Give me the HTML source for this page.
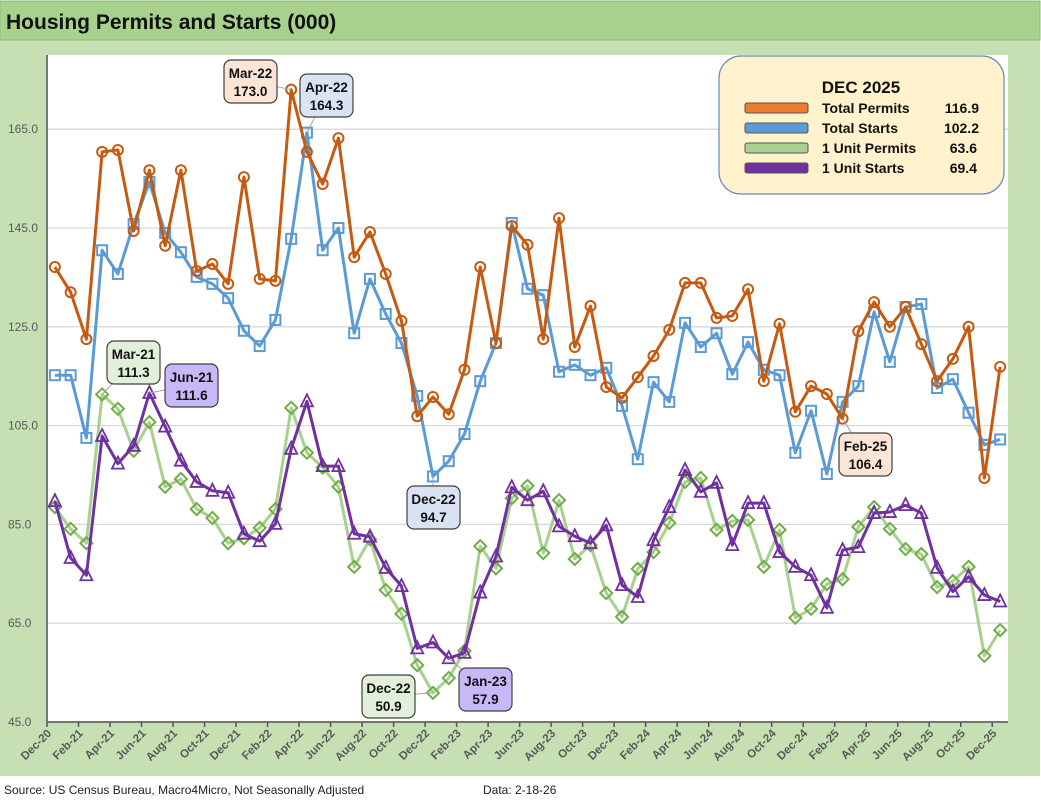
<!DOCTYPE html>
<html><head><meta charset="utf-8"><style>
body{margin:0;width:1041px;height:806px;overflow:hidden;background:#fff;font-family:"Liberation Sans",sans-serif}
svg text{font-family:"Liberation Sans",sans-serif}
</style></head><body>
<svg id="chart" width="1041" height="806" xmlns="http://www.w3.org/2000/svg">
<rect x="0" y="40" width="1040" height="736" fill="#c6e0b4"/>
<rect x="0" y="1" width="1040" height="39" fill="#a9d18e" stroke="#8fb87a"/>
<text x="6" y="29" font-size="21" font-weight="bold" fill="#111">Housing Permits and Starts (000)</text>
<rect x="47" y="55" width="961" height="667" fill="#fff"/>
<g id="grid"></g><g id="series"></g><g id="axes"></g><g id="callouts"></g>
<g>
<rect x="719" y="56" width="285" height="138" rx="22" fill="#fff2cc" stroke="#6a88b8" stroke-width="1.2"/>
<text x="861" y="93" font-size="17" font-weight="bold" text-anchor="middle" fill="#111">DEC 2025</text>
<g font-size="14" font-weight="bold" fill="#111">
<rect x="745" y="103" width="63" height="10" rx="2" fill="#ed7d31" stroke="#555"/>
<text x="822" y="113">Total Permits</text><text x="979" y="113" text-anchor="end">116.9</text>
<rect x="745" y="123" width="63" height="10" rx="2" fill="#5b9bd5" stroke="#555"/>
<text x="822" y="133">Total Starts</text><text x="979" y="133" text-anchor="end">102.2</text>
<rect x="745" y="143" width="63" height="10" rx="2" fill="#a9d18e" stroke="#555"/>
<text x="822" y="153">1 Unit Permits</text><text x="977" y="153" text-anchor="end">63.6</text>
<rect x="745" y="163" width="63" height="10" rx="2" fill="#7030a0" stroke="#555"/>
<text x="822" y="173">1 Unit Starts</text><text x="977" y="173" text-anchor="end">69.4</text>
</g></g>
<text x="4" y="794" font-size="12" fill="#222">Source: US Census Bureau, Macro4Micro, Not Seasonally Adjusted</text>
<text x="483" y="794" font-size="12" fill="#222">Data: 2-18-26</text>
</svg>
<script>
const months=["Dec-20","Jan-21","Feb-21","Mar-21","Apr-21","May-21","Jun-21","Jul-21","Aug-21","Sep-21","Oct-21","Nov-21","Dec-21","Jan-22","Feb-22","Mar-22","Apr-22","May-22","Jun-22","Jul-22","Aug-22","Sep-22","Oct-22","Nov-22","Dec-22","Jan-23","Feb-23","Mar-23","Apr-23","May-23","Jun-23","Jul-23","Aug-23","Sep-23","Oct-23","Nov-23","Dec-23","Jan-24","Feb-24","Mar-24","Apr-24","May-24","Jun-24","Jul-24","Aug-24","Sep-24","Oct-24","Nov-24","Dec-24","Jan-25","Feb-25","Mar-25","Apr-25","May-25","Jun-25","Jul-25","Aug-25","Sep-25","Oct-25","Nov-25","Dec-25"];
const totalPermits=[137.1,132.0,122.5,160.4,160.8,144.4,156.7,141.4,156.7,136.3,137.7,133.7,155.3,134.7,134.3,173.0,160.4,153.9,163.2,139.1,144.2,135.7,126.2,106.9,110.8,107.3,116.3,137.1,121.7,145.4,141.6,122.5,147.0,120.9,129.2,112.8,110.6,114.8,119.1,124.4,133.9,133.9,126.8,127.2,132.6,114.0,125.6,107.8,113.0,111.4,106.4,124.1,130.0,125.0,129.0,121.5,114.0,118.5,125.0,94.4,116.9];
const totalStarts=[115.2,115.2,102.5,140.5,135.7,145.8,154.3,144.0,140.1,135.1,133.7,130.8,124.2,121.1,126.4,142.8,164.3,140.5,145.0,123.7,134.7,127.6,121.7,111.0,94.7,97.8,103.3,114.0,121.7,146.0,132.7,131.4,115.9,117.3,115.2,116.7,109.0,98.2,113.8,109.8,125.8,120.9,123.7,115.4,121.9,116.3,115.2,99.5,108.0,95.2,109.8,113.0,128.0,117.9,129.0,129.6,112.6,114.4,107.6,101.1,102.2];
const unitPermits=[88.5,84.1,81.2,111.3,108.4,99.9,105.7,92.6,94.2,88.1,86.3,81.2,82.2,84.3,88.1,108.6,99.5,96.5,92.6,76.4,82.0,71.7,66.9,56.5,50.9,53.9,59.4,80.6,76.1,90.3,92.8,79.2,89.9,78.0,80.8,71.1,66.3,76.0,79.4,85.3,93.6,94.4,83.9,85.7,85.9,76.4,83.9,66.1,67.9,72.9,73.9,84.5,88.5,84.1,80.0,79.0,72.3,73.5,76.4,58.4,63.6];
const unitStarts=[89.7,78.2,74.7,102.9,97.3,100.9,111.6,104.8,97.9,93.6,91.8,91.4,83.1,81.6,85.1,100.3,109.9,96.8,96.8,83.1,82.5,76.2,72.5,59.9,61.1,57.9,59.0,71.2,78.5,92.5,89.9,91.7,84.6,82.6,81.2,84.8,72.7,70.3,81.8,88.5,96.0,91.6,93.4,80.8,89.3,89.3,79.4,76.4,74.7,68.1,79.8,80.4,87.3,87.5,88.9,87.3,76.2,71.4,74.4,70.7,69.4];
const yTicks=[45,65,85,105,125,145,165];
const NS='http://www.w3.org/2000/svg';
const X0=47,X1=1008,Y0=722,YMIN=45,YPX=4.94;
const step=(X1-X0)/months.length;
function xs(i){return X0+step*(i+0.5);}
function ys(v){return Y0-(v-YMIN)*YPX;}
function mk(tag,attrs,parent){const e=document.createElementNS(NS,tag);for(const k in attrs)e.setAttribute(k,attrs[k]);parent.appendChild(e);return e;}
const grid=document.getElementById('grid'),axes=document.getElementById('axes'),ser=document.getElementById('series'),cal=document.getElementById('callouts');
yTicks.forEach(t=>{
  if(t>YMIN){const l=mk('line',{x1:X0,x2:X1,y1:ys(t),y2:ys(t),stroke:'#d9d9d9','stroke-width':1.3},grid);
  
  }
  const tx=mk('text',{x:8,y:ys(t)+4,'font-size':12,fill:'#595959'},axes);tx.textContent=t.toFixed(1);
  
  
});
const ax=mk('line',{x1:X0,x2:X0,y1:55,y2:Y0,stroke:'#767676','stroke-width':2},axes);


const bx=mk('line',{x1:X0,x2:X1,y1:Y0,y2:Y0,stroke:'#767676','stroke-width':2},axes);


months.forEach((m,i)=>{
  if(i%2===0){
    const tk=X0+step*i;
    mk('line',{x1:tk,x2:tk,y1:Y0,y2:Y0+5,stroke:'#555','stroke-width':1.5},axes);
    const t=mk('text',{x:0,y:0,'font-size':11.5,'font-weight':'bold',fill:'#595959','text-anchor':'end',transform:`translate(${tk+5},${Y0+12}) rotate(-45)`},axes);
    t.textContent=m;
    
    
  }
});
function series(data,name,line,mcol,lw,shape){
  const g=mk('g',{},ser);
  
  
  mk('polyline',{points:data.map((v,i)=>xs(i)+','+ys(v)).join(' '),fill:'none',stroke:line,'stroke-width':lw,'stroke-linejoin':'round'},g);
  data.forEach((v,i)=>{
    const x=xs(i),y=ys(v);let e;
    if(shape==='circle')e=mk('circle',{cx:x,cy:y,r:5,fill:'none',stroke:mcol,'stroke-width':2},g);
    else if(shape==='square')e=mk('rect',{x:x-5,y:y-5,width:10,height:10,fill:'none',stroke:mcol,'stroke-width':2},g);
    else if(shape==='diamond')e=mk('polygon',{points:`${x},${y-6} ${x+6},${y} ${x},${y+6} ${x-6},${y}`,fill:'none',stroke:mcol,'stroke-width':2},g);
    else e=mk('polygon',{points:`${x},${y-7} ${x+6},${y+5} ${x-6},${y+5}`,fill:'none',stroke:mcol,'stroke-width':1.8},g);
    
    
  });
}
series(unitPermits,'series-1unit-permits','#a9d18e','#70ad47',3,'diamond');
series(unitStarts,'series-1unit-starts','#7030a0','#7030a0',3,'triangle');
series(totalStarts,'series-total-starts','#5b9bd5','#5b9bd5',3,'square');
series(totalPermits,'series-total-permits','#c55a11','#c55a11',3,'circle');
function callout(arr,idx,bx,by,fill){
  const g=mk('g',{},cal);
  
  
  mk('line',{x1:xs(idx),y1:ys(arr[idx]),x2:bx+26,y2:by+21,stroke:'#a6a6a6','stroke-width':1},g);
  mk('rect',{x:bx,y:by,width:53,height:43,rx:7,fill:fill,stroke:'#404040','stroke-width':1.2},g);
  const t1=mk('text',{x:bx+26.5,y:by+18,'font-size':13.5,'font-weight':'bold','text-anchor':'middle',fill:'#111'},g);t1.textContent=months[idx];
  const t2=mk('text',{x:bx+26.5,y:by+36,'font-size':13.5,'font-weight':'bold','text-anchor':'middle',fill:'#111'},g);t2.textContent=arr[idx].toFixed(1);
}
callout(totalPermits,15,224,60,'#fbe5d6');
callout(totalStarts,16,300,74,'#dae3f3');
callout(unitPermits,3,107,341,'#e2efda');
callout(unitStarts,6,165,364,'#c9b8f7');
callout(totalStarts,24,407,486,'#dae3f3');
callout(unitPermits,24,362,675,'#e2efda');
callout(unitStarts,25,459,668,'#c9b8f7');
callout(totalPermits,50,839,433,'#fbe5d6');
</script>
</body></html>
